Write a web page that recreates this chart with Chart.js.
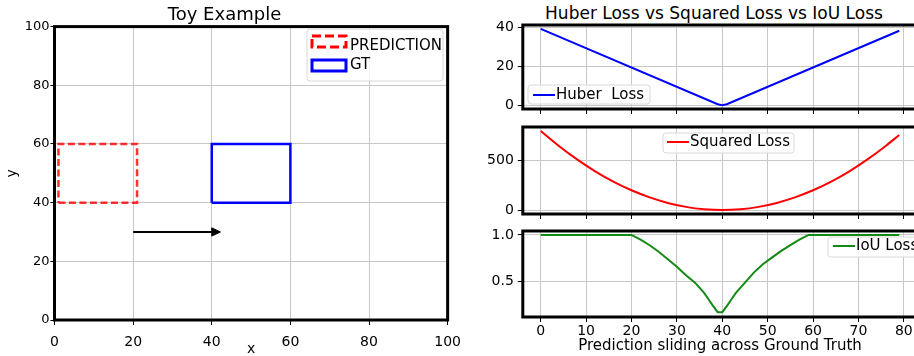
<!DOCTYPE html>
<html lang="en">
<head>
<meta charset="UTF-8">
<title>Toy Example - Huber vs Squared vs IoU Loss</title>
<script src="https://cdn.jsdelivr.net/npm/chart.js"></script>
<style>
    body { margin: 0; width: 914px; height: 356px; overflow: hidden; background: #fff; position: relative; font-family: "DejaVu Sans", sans-serif; }
    canvas { position: absolute; }
    #toy { left: 0; top: 0; }
    #huber { left: 460px; top: 0; }
    #squared { left: 460px; top: 110px; }
    #iou { left: 460px; top: 214px; }
    .headline { position: absolute; left: 714px; top: 3px; transform: translateX(-50%); font-size: 17px; line-height: 20px; white-space: nowrap; color: #000; }
</style>
</head>
<body>
<canvas id="toy" width="470" height="356"></canvas>
<div class="headline">Huber Loss vs Squared Loss vs IoU Loss</div>
<canvas id="huber" width="480" height="130"></canvas>
<canvas id="squared" width="480" height="126"></canvas>
<canvas id="iou" width="480" height="142"></canvas>

<script>
// ---- toy example (left) ----
const predX = [1, 21, 21, 1, 1];
const predY = [40, 40, 60, 60, 40];
const gtX = [40, 60, 60, 40, 40];
const gtY = [40, 40, 60, 60, 40];
const arrowX = [20, 40];
const arrowY = [30, 30];
const headX = [40, 42.2, 40, 40];
const headY = [31.4, 30, 28.6, 31.4];
const toyTicks = [0, 20, 40, 60, 80, 100];

// ---- losses (right) ----
const huberX = [0, 39, 40, 41, 79];
const huberY = [39.5, 0.5, 0, 0.5, 38.5];
const squaredX = [0, 4, 8, 12, 16, 20, 24, 28, 32, 36, 40, 44, 48, 52, 56, 60, 64, 68, 72, 76, 79];
const squaredY = [800, 648, 512, 392, 288, 200, 128, 72, 32, 8, 0, 8, 32, 72, 128, 200, 288, 392, 512, 648, 760];
const iouX = [0, 20, 22, 24, 26, 28, 30, 32, 34, 36, 37, 38, 39, 40, 41, 42, 43, 45, 47, 49, 51, 53, 55, 57, 59, 79];
const iouY = [1, 1, 0.95, 0.89, 0.82, 0.74, 0.66, 0.57, 0.49, 0.38, 0.31, 0.24, 0.175, 0.175, 0.24, 0.31, 0.38, 0.49, 0.6, 0.69, 0.76, 0.83, 0.89, 0.95, 1, 1];
const slideTicks = [0, 10, 20, 30, 40, 50, 60, 70, 80];
const huberTicks = [0, 20, 40];
const squaredTicks = [0, 500];
const iouTicks = [0.5, 1.0];

Chart.defaults.font.family = '"DejaVu Sans", sans-serif';
Chart.defaults.color = '#000';

function pts(xs, ys) {
    return xs.map((x, i) => ({ x: x, y: ys[i] }));
}

// black box around the plot area, like matplotlib spines
const frame = {
    id: 'frame',
    afterDatasetsDraw(chart) {
        const { ctx, chartArea: a } = chart;
        ctx.save();
        ctx.strokeStyle = '#000';
        ctx.lineWidth = 3;
        ctx.strokeRect(a.left, a.top, a.right - a.left, a.bottom - a.top);
        ctx.restore();
    }
};

// legend drawn inside the axes (page coords)
const boxLegend = {
    id: 'boxLegend',
    afterDraw(chart, args, opts) {
        if (!opts.items) return;
        const ctx = chart.ctx;
        ctx.save();
        ctx.translate(-chart.canvas.offsetLeft, -chart.canvas.offsetTop);
        const [bx, by, bw, bh] = opts.box;
        ctx.beginPath();
        if (ctx.roundRect) ctx.roundRect(bx, by, bw, bh, 3); else ctx.rect(bx, by, bw, bh);
        ctx.fillStyle = 'rgba(255,255,255,0.8)';
        ctx.fill();
        ctx.strokeStyle = '#d8d8d8';
        ctx.lineWidth = 1;
        ctx.stroke();
        ctx.font = opts.size + 'px "DejaVu Sans"';
        ctx.textBaseline = 'middle';
        opts.items.forEach(it => {
            const ds = chart.data.datasets[it.index];
            ctx.strokeStyle = it.color || ds.borderColor;
            ctx.lineWidth = it.lw;
            ctx.setLineDash(it.dash || []);
            ctx.beginPath();
            if (it.patch) {
                ctx.rect(it.patch[0], it.patch[1], it.patch[2], it.patch[3]);
            } else {
                ctx.moveTo(it.line[0], it.line[2]);
                ctx.lineTo(it.line[1], it.line[2]);
            }
            ctx.stroke();
            ctx.setLineDash([]);
            ctx.fillStyle = '#000';
            ctx.fillText(ds.label, it.tx, it.ty);
        });
        ctx.restore();
    }
};

const gridStyle = { color: '#c8c8c8', lineWidth: 1, tickColor: '#000', tickWidth: 1, tickLength: 5 };

new Chart(document.getElementById('toy'), {
    type: 'line',
    data: {
        datasets: [
            { label: 'PREDICTION', data: pts(predX, predY), borderColor: 'rgba(255,0,0,0.8)', borderDash: [7, 3.5], borderWidth: 2.5, pointRadius: 0 },
            { label: 'GT', data: pts(gtX, gtY), borderColor: '#0000ff', borderWidth: 2.5, pointRadius: 0 },
            { label: 'shift', data: pts(arrowX, arrowY), borderColor: '#000', borderWidth: 2, pointRadius: 0 },
            { label: 'head', data: pts(headX, headY), borderColor: '#000', backgroundColor: '#000', borderWidth: 1, fill: 'shape', pointRadius: 0 }
        ]
    },
    options: {
        responsive: false,
        animation: false,
        layout: { padding: { left: 0, right: 21, top: 0, bottom: 0 } },
        plugins: {
            legend: { display: false },
            tooltip: { enabled: false },
            title: { display: true, text: 'Toy Example', color: '#000', font: { size: 18, weight: 'normal' }, padding: { top: 5, bottom: 0 } },
            boxLegend: {
                box: [307, 29, 136, 52], size: 15,
                items: [
                    { index: 0, patch: [312, 36, 34, 11], lw: 3, color: '#ff0000', dash: [9, 4], tx: 350, ty: 46 },
                    { index: 1, patch: [312, 60, 34, 11], lw: 3, color: '#0000ff', tx: 350, ty: 65 }
                ]
            }
        },
        scales: {
            x: {
                type: 'linear', min: 0, max: 100,
                afterBuildTicks: s => { s.ticks = toyTicks.map(v => ({ value: v })); },
                afterFit: s => { s.height = 36; },
                grid: gridStyle,
                border: { display: false },
                ticks: { font: { size: 14 }, padding: 9, maxRotation: 0 },
                title: { display: true, text: 'x', font: { size: 14 }, padding: { top: 0, bottom: -1.5 } }
            },
            y: {
                min: 0, max: 100,
                afterBuildTicks: s => { s.ticks = toyTicks.map(v => ({ value: v })); },
                afterFit: s => { s.width = 54.5; },
                grid: Object.assign({}, gridStyle, { tickLength: 4 }),
                border: { display: false },
                ticks: { font: { size: 13 }, padding: 1 },
                title: { display: true, text: 'y', font: { size: 14 }, padding: { top: 4, bottom: 0 } }
            }
        }
    },
    plugins: [frame, boxLegend]
});

function lossChart(id, ds, yMin, yMax, yTicks, legend, padTop, xHeight, bottom) {
    return new Chart(document.getElementById(id), {
        type: 'line',
        data: { datasets: [ds] },
        options: {
            responsive: false,
            animation: false,
            layout: { padding: { left: 0, right: 22.8, top: padTop, bottom: 0 } },
            plugins: { legend: { display: false }, tooltip: { enabled: false }, boxLegend: legend },
            scales: {
                x: {
                    type: 'linear', min: -3.95, max: 82.95,
                    afterBuildTicks: s => { s.ticks = slideTicks.map(v => ({ value: v })); },
                    afterFit: s => { s.height = xHeight; },
                    grid: gridStyle,
                    border: { display: false },
                    ticks: { display: bottom, font: { size: 14 }, padding: 1, maxRotation: 0 },
                    title: { display: bottom, text: 'Prediction sliding across Ground Truth', font: { size: 15 }, padding: { top: 0, bottom: 1 } }
                },
                y: {
                    min: yMin, max: yMax,
                    afterBuildTicks: s => { s.ticks = yTicks.map(v => ({ value: v })); },
                    afterFit: s => { s.width = 62.8; },
                    grid: gridStyle,
                    border: { display: false },
                    ticks: { font: { size: 14 }, padding: 4, callback: v => (id === 'iou' ? v.toFixed(1) : v) }
                }
            }
        },
        plugins: [frame, boxLegend]
    });
}

lossChart('huber',
    { label: 'Huber  Loss', data: pts(huberX, huberY), borderColor: '#0000ff', borderWidth: 2, pointRadius: 0 },
    -1.975, 41.475, huberTicks,
    { box: [528, 85, 122, 19], size: 15, items: [{ index: 0, line: [533, 555, 95], lw: 2, tx: 556, ty: 95 }] },
    25, 21, false);

lossChart('squared',
    { label: 'Squared Loss', data: pts(squaredX, squaredY), borderColor: '#ff0000', borderWidth: 2, pointRadius: 0, cubicInterpolationMode: 'monotone' },
    -40, 840, squaredTicks,
    { box: [663, 133, 131, 20], size: 15, items: [{ index: 0, line: [667, 689, 142], lw: 2, tx: 690, ty: 142 }] },
    17, 22, false);

lossChart('iou',
    { label: 'IoU Loss', data: pts(iouX, iouY), borderColor: '#138a13', borderWidth: 2, pointRadius: 0 },
    0.123, 1.042, iouTicks,
    { box: [828, 237, 100, 20], size: 15, items: [{ index: 0, line: [833, 855, 246], lw: 2, tx: 856, ty: 246 }] },
    17, 39, true);
</script>
</body>
</html>
